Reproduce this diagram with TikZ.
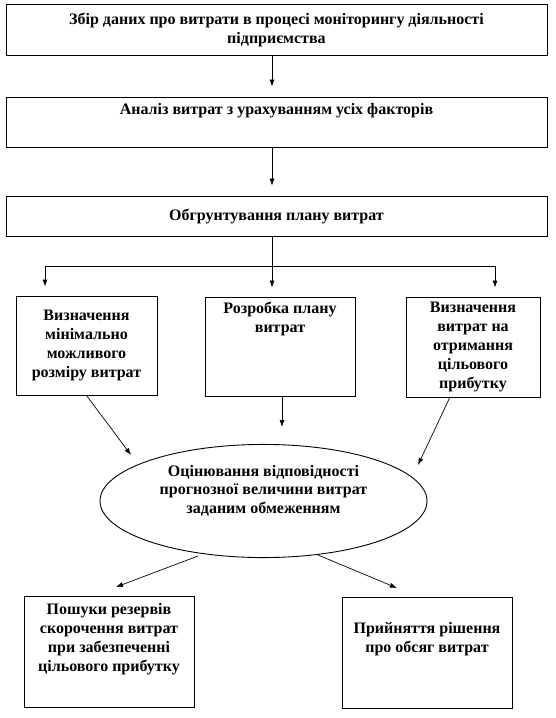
\documentclass[tikz,border=0pt]{standalone}
\usepackage{fontspec}
\setmainfont{Liberation Serif}
\usetikzlibrary{shapes.geometric,arrows.meta}
\newcommand\boxtxt[5]{\parbox[c][#2pt][#3]{#1pt}{\vspace*{#4pt}\centering #5\par}}
\begin{document}
\begin{tikzpicture}[x=1pt,y=-1pt,
  box/.style={draw, line width=0.9pt, rectangle, inner sep=0pt,
    font=\bfseries\fontsize{16}{19}\selectfont},
  oval/.style={draw, line width=0.9pt, ellipse, inner sep=0pt,
    minimum width=327pt, minimum height=110pt,
    font=\bfseries\fontsize{16}{18.5}\selectfont},
  arr/.style={-{Latex[length=7pt,width=5pt]}, line width=0.7pt},
  ln/.style={line width=0.7pt}]
\useasboundingbox (0,0) rectangle (555,718);
\node[box] (b1) at (276.5,29.5) {\boxtxt{541}{51}{c}{0}{Збір даних про витрати в процесі моніторингу діяльності\\ підприємства}};
\node[box] (b2) at (276.5,122) {\boxtxt{541}{50}{t}{6}{Аналіз витрат з урахуванням усіх факторів}};
\node[box] (b3) at (276.5,216) {\boxtxt{541}{40}{c}{0}{Обгрунтування плану витрат}};
\node[box] (b4) at (86.5,345.5) {\boxtxt{141}{99}{c}{0}{Визначення\\ мінімально\\ можливого\\ розміру витрат}};
\node[box] (b5) at (280,346.5) {\boxtxt{150}{99}{t}{5}{Розробка плану\\ витрат}};
\node[box] (b6) at (473,347) {\boxtxt{134}{100}{c}{0}{Визначення\\ витрат на\\ отримання\\ цільового\\ прибутку}};
\node[oval] (e) at (263.5,501) {\parbox[c][80pt][t]{230pt}{\vspace*{4pt}\centering Оцінювання відповідності\\ прогнозної величини витрат\\ заданим обмеженням\par}};
\node[box] (b7) at (109,651.5) {\boxtxt{170}{111}{t}{7}{Пошуки резервів\\ скорочення витрат\\ при забезпеченні\\ цільового прибутку}};
\node[box] (b8) at (427,652.5) {\boxtxt{170}{111}{t}{25}{Прийняття рішення\\ про обсяг витрат}};
% connectors
\coordinate (j) at (272,266);
\coordinate (jl) at (45,266);
\coordinate (jr) at (495,266);
\draw[arr, shorten >=10pt] (b1.south -| j) -- (b2.north -| j);
\draw[arr, shorten >=10pt] (b2.south -| j) -- (b3.north -| j);
\draw[ln] (b3.south -| j) -- (j);
\draw[ln] (jl) -- (jr);
\draw[arr, shorten >=9pt] (j) -- (b5.north -| j);
\draw[arr, shorten >=9pt] (jl) -- (b4.north -| jl);
\draw[arr, shorten >=9pt] (jr) -- (b6.north -| jr);
\coordinate (t4) at (131,455);
\coordinate (s6) at (450,397);
\coordinate (t6) at (418,465);
\coordinate (t5) at (282,427);
\draw[arr] (b4.south) -- (t4);
\draw[arr] (b5.south -| t5) -- (t5);
\draw[arr] (s6) -- (t6);
\coordinate (s7) at (198,556);
\coordinate (t7) at (116,587);
\coordinate (s8) at (318,555);
\coordinate (t8) at (397,588);
\draw[arr] (s7) -- (t7);
\draw[arr] (s8) -- (t8);
\end{tikzpicture}
\end{document}
